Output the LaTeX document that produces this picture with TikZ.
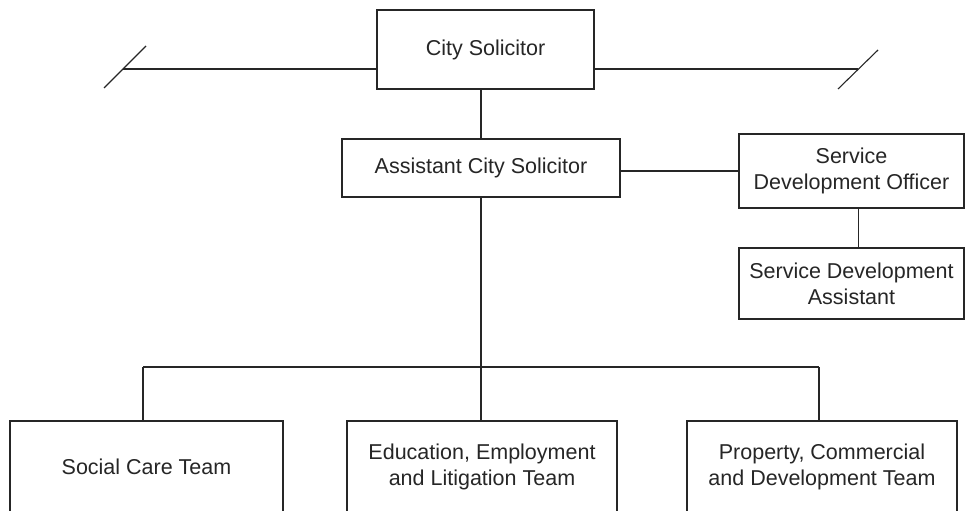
\documentclass[tikz,border=0pt]{standalone}
\usepackage{fontspec}
\setmainfont{Liberation Sans}
\usetikzlibrary{positioning}

\begin{document}
\begin{tikzpicture}[
    x=1pt, y=-1pt,
    every node/.style={font=\fontsize{21.5}{26}\selectfont, text=black!85},
    post/.style={draw=black!85, line width=1.1pt, fill=white, inner sep=0pt,
        outer sep=0pt, align=center, anchor=north west},
    link/.style={draw=black!85, line width=1.1pt}
]

\clip (0,0) rectangle (966,511);

% Posts
\node[post, minimum width=217, minimum height=79] (cs) at (377,10) {City Solicitor};
\node[post, minimum width=278, minimum height=58] (acs) at (342,139) {Assistant City Solicitor};
\node[post, minimum width=225, minimum height=74] (sdo) at (739,134) {Service\\Development Officer};
\node[post, minimum width=225, minimum height=71] (sda) at (739,248) {Service Development\\Assistant};

% Teams (cut off at the bottom)
\node[post, minimum width=273, minimum height=92] (sct) at (10,421) {Social Care Team};
\node[post, minimum width=270, minimum height=92] (eel) at (347,421) {Education, Employment\\and Litigation Team};
\node[post, minimum width=270, minimum height=92] (pcd) at (687,421) {Property, Commercial\\and Development Team};

% Line to the rest of the council
\coordinate (tl) at (123,69);
\coordinate (tr) at (858,69);
\draw[link] (tl) -- (tl -| cs.west);
\draw[link] (cs.east |- tr) -- (tr);
\draw[link] ([shift={(-19,19)}]tl) -- ([shift={(23,-23)}]tl);
\draw[link] ([shift={(-20,20)}]tr) -- ([shift={(20,-19)}]tr);

% Reporting lines
\draw[link] (acs.north) -- (acs.north |- cs.south);
\draw[link] (sdo.west -| acs.east) -- (sdo.west);
\draw[link] ([xshift=7pt]sdo.south) -- ([xshift=7pt]sda.north);

% Teams bus
\coordinate (b1) at (143,367);
\coordinate (b3) at (819,367);
\draw[link] (acs.south) -- (acs.south |- b1);
\draw[link] (b1) -- (b3);
\draw[link] (b1) -- (b1 |- sct.north);
\draw[link] (acs.south |- b1) -- (acs.south |- eel.north);
\draw[link] (b3) -- (b3 |- pcd.north);

\end{tikzpicture}
\end{document}
